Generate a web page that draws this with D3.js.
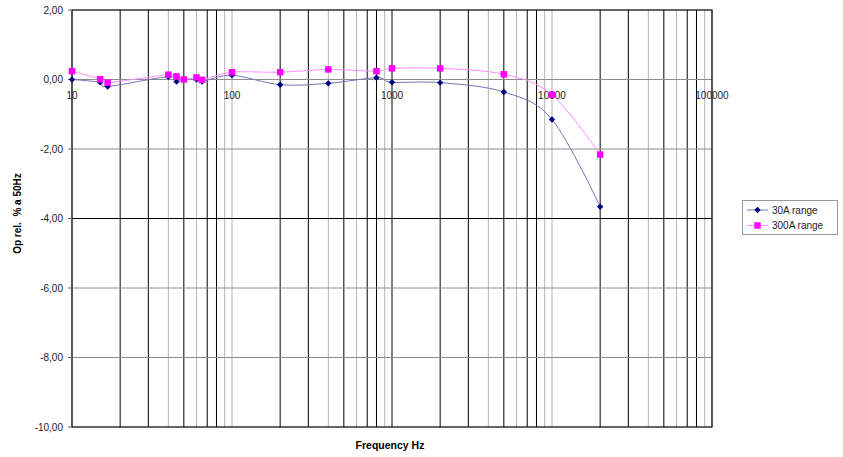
<!DOCTYPE html>
<html>
<head>
<meta charset="utf-8">
<script src="https://d3js.org/d3.v7.min.js"></script>
<style>
  body { margin: 0; background: #fff; }
  text { font-family: "Liberation Sans", Arial, sans-serif; }
</style>
</head>
<body>
<svg width="843" height="457"></svg>
<script>
  // data
  var freqs = [10, 15, 16.7, 40, 45, 50, 60, 65, 100, 200, 400, 800, 1000, 2000, 5000, 10000, 20000];
  var range30 = [0.00, -0.08, -0.20, 0.08, -0.06, 0.00, 0.00, -0.06, 0.12, -0.15, -0.11, 0.05, -0.08, -0.09, -0.36, -1.15, -3.66];
  var range300 = [0.24, 0.01, -0.09, 0.14, 0.09, 0.00, 0.06, -0.01, 0.21, 0.21, 0.29, 0.24, 0.32, 0.32, 0.15, -0.44, -2.16];
  var yTicks = [2, 0, -2, -4, -6, -8, -10];
  var xLabels = [10, 100, 1000, 10000, 100000];
  var seriesNames = ["30A range", "300A range"];

  // plot area (note: "top" is reserved on window, so prefixed names)
  var svg = d3.select("svg"),
    pLeft = 72, pRight = 712, pTop = 10, pBottom = 427;

  var xscale = d3.scaleLog()
    .domain([10, 100000])
    .range([pLeft, pRight]);

  var yscale = d3.scaleLinear()
    .domain([-10, 2])
    .range([pBottom, pTop]);

  var fmt = function(v) { return d3.format(".2f")(v).replace(".", ",").replace("−", "-"); };

  // vertical gridlines (every log tick); some come out lighter in the original
  var gGrid = svg.append("g");
  gGrid.selectAll("line.v")
    .data(xscale.ticks())
    .enter().append("line")
    .attr("class", "v")
    .attr("x1", function(d) { return xscale(d); })
    .attr("x2", function(d) { return xscale(d); })
    .attr("y1", pTop)
    .attr("y2", pBottom)
    .attr("stroke", function(d) {
      if (d == 1000) return "#000";
      var m = Math.round(d / Math.pow(10, Math.floor(Math.log10(d) + 1e-9)));
      return (m == 4 || m == 6 || m == 9 || m == 1) ? "#b4b4b4" : "#000";
    })
    .attr("stroke-width", 1);

  // horizontal gridlines
  gGrid.selectAll("line.h")
    .data(yTicks.slice(1, yTicks.length - 1))
    .enter().append("line")
    .attr("class", "h")
    .attr("x1", pLeft)
    .attr("x2", pRight)
    .attr("y1", function(d) { return yscale(d); })
    .attr("y2", function(d) { return yscale(d); })
    .attr("stroke", function(d) { return d == -4 ? "#000" : "#8c8c8c"; })
    .attr("stroke-width", 1);

  // plot border
  svg.append("rect")
    .attr("x", pLeft)
    .attr("y", pTop)
    .attr("width", pRight - pLeft)
    .attr("height", pBottom - pTop)
    .attr("fill", "none")
    .attr("stroke", "#000")
    .attr("stroke-width", 1.2);

  // y axis tick marks and labels
  var gY = svg.append("g");
  gY.selectAll("line")
    .data(yTicks).enter().append("line")
    .attr("x1", pLeft - 4)
    .attr("x2", pLeft)
    .attr("y1", function(d) { return yscale(d); })
    .attr("y2", function(d) { return yscale(d); })
    .attr("stroke", "#666");
  gY.selectAll("text")
    .data(yTicks).enter().append("text")
    .attr("x", pLeft - 9)
    .attr("y", function(d) { return yscale(d) + 3.5; })
    .attr("text-anchor", "end")
    .attr("font-size", "10px")
    .attr("fill", "#222")
    .text(fmt);

  // x labels below the zero line
  svg.append("g").selectAll("text")
    .data(xLabels).enter().append("text")
    .attr("x", function(d) { return xscale(d); })
    .attr("y", yscale(0) + 19.5)
    .attr("text-anchor", "middle")
    .attr("font-size", "10px")
    .attr("fill", "#222")
    .text(function(d) { return d; });

  // axis titles
  svg.append("text")
    .attr("transform", "translate(21," + ((pTop + pBottom) / 2 - 5) + ") rotate(-90)")
    .attr("text-anchor", "middle")
    .attr("font-size", "10px")
    .attr("font-weight", "bold")
    .style("white-space", "pre")
    .text("Op rel.  % a 50Hz");

  svg.append("text")
    .attr("x", (pLeft + pRight) / 2 - 2)
    .attr("y", 449)
    .attr("text-anchor", "middle")
    .attr("font-size", "10.5px")
    .attr("font-weight", "bold")
    .text("Frequency Hz");

  // series
  var line = d3.line()
    .x(function(d) { return xscale(d[0]); })
    .y(function(d) { return yscale(d[1]); })
    .curve(d3.curveCardinal.tension(0));

  var series = [
    { name: seriesNames[0], vals: range30, line: "#7474b8", mark: "#000080", sym: d3.symbolDiamond2, size: 26 },
    { name: seriesNames[1], vals: range300, line: "#ff8cff", mark: "#ff00ff", sym: d3.symbolSquare, size: 42 }
  ];

  series.forEach(function(s) {
    var pts = freqs.map(function(f, i) { return [f, s.vals[i]]; });
    var g = svg.append("g");
    g.append("path")
      .attr("d", line(pts))
      .attr("fill", "none")
      .attr("stroke", s.line)
      .attr("stroke-width", 1);
    g.selectAll("path.m")
      .data(pts).enter().append("path")
      .attr("class", "m")
      .attr("transform", function(d) { return "translate(" + xscale(d[0]) + "," + yscale(d[1]) + ")"; })
      .attr("d", d3.symbol().type(s.sym).size(s.size))
      .attr("fill", s.mark);
  });

  // legend
  var gLeg = svg.append("g");
  gLeg.append("rect")
    .attr("x", 742.5)
    .attr("y", 200.5)
    .attr("width", 95)
    .attr("height", 34)
    .attr("fill", "#fff")
    .attr("stroke", "#9a9a9a");
  series.forEach(function(s, i) {
    var yy = 210 + i * 15.5;
    gLeg.append("line")
      .attr("x1", 747).attr("x2", 768)
      .attr("y1", yy).attr("y2", yy)
      .attr("stroke", s.line);
    gLeg.append("path")
      .attr("transform", "translate(757.5," + yy + ")")
      .attr("d", d3.symbol().type(s.sym).size(s.size))
      .attr("fill", s.mark);
    gLeg.append("text")
      .attr("x", 772)
      .attr("y", yy + 3.5)
      .attr("font-size", "10px")
      .attr("fill", "#222")
      .text(s.name);
  });
</script>
</body>
</html>
